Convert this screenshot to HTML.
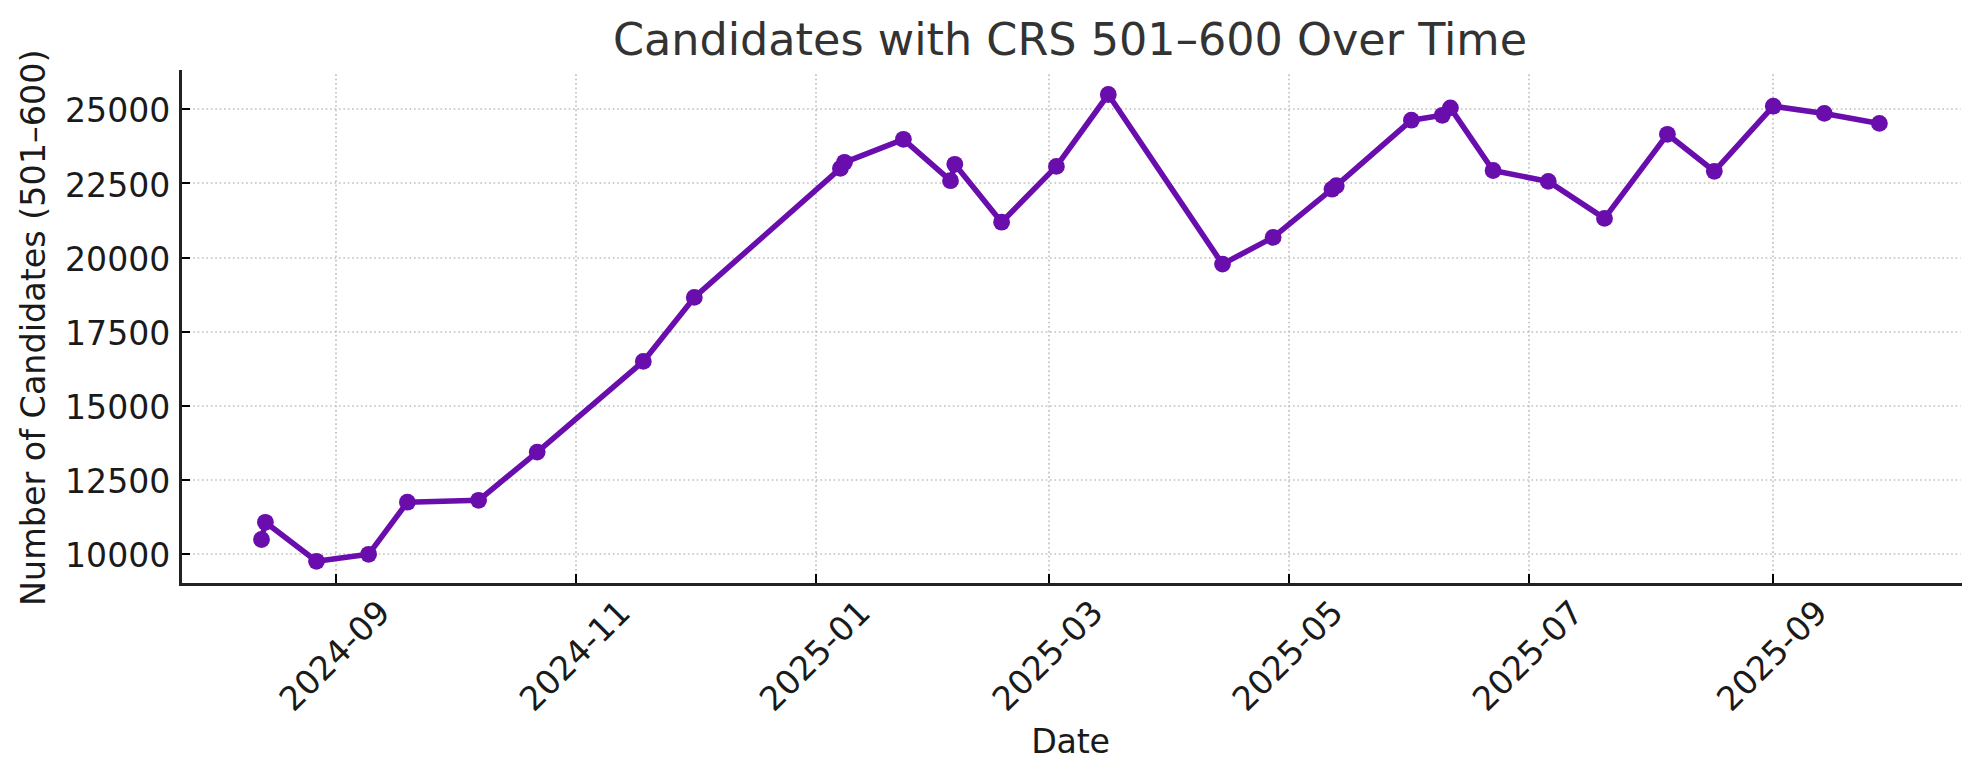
<!DOCTYPE html>
<html lang="en"><head><meta charset="utf-8"><title>Candidates with CRS 501–600 Over Time</title>
<style>html,body{margin:0;padding:0;background:#fff;}body{width:1979px;height:780px;overflow:hidden;}svg{display:block;}text{font-family:"DejaVu Sans","Liberation Sans",sans-serif;}</style></head><body>
<svg width="1979" height="780" viewBox="0 0 1979 780">
<rect width="1979" height="780" fill="#ffffff"/>
<g stroke="#c0c0c0" stroke-width="1.67" stroke-dasharray="1.667 2.75" fill="none">
<line x1="336" y1="584.5" x2="336" y2="71.4" stroke-dashoffset="3.817"/>
<line x1="576" y1="584.5" x2="576" y2="71.4" stroke-dashoffset="3.817"/>
<line x1="816" y1="584.5" x2="816" y2="71.4" stroke-dashoffset="3.817"/>
<line x1="1049" y1="584.5" x2="1049" y2="71.4" stroke-dashoffset="3.817"/>
<line x1="1289" y1="584.5" x2="1289" y2="71.4" stroke-dashoffset="3.817"/>
<line x1="1529" y1="584.5" x2="1529" y2="71.4" stroke-dashoffset="3.817"/>
<line x1="1773" y1="584.5" x2="1773" y2="71.4" stroke-dashoffset="3.817"/>
<line x1="180.5" y1="554" x2="1960.5" y2="554" stroke-dashoffset="0.6"/>
<line x1="180.5" y1="480" x2="1960.5" y2="480" stroke-dashoffset="0.6"/>
<line x1="180.5" y1="406" x2="1960.5" y2="406" stroke-dashoffset="0.6"/>
<line x1="180.5" y1="332" x2="1960.5" y2="332" stroke-dashoffset="0.6"/>
<line x1="180.5" y1="258" x2="1960.5" y2="258" stroke-dashoffset="0.6"/>
<line x1="180.5" y1="183" x2="1960.5" y2="183" stroke-dashoffset="0.6"/>
<line x1="180.5" y1="109" x2="1960.5" y2="109" stroke-dashoffset="0.6"/>
</g>
<polyline points="261.5,539.5 265.4,522.3 316.5,561.3 368.6,554.3 407.4,502.2 478.6,500.3 537.2,452.1 643.3,361.4 694.3,297.4 840.4,168.4 844.5,162.3 903.4,139.3 950.5,180.7 954.8,164.3 1001.6,222.2 1056.4,166.4 1108.3,94.5 1222.5,264.1 1273.1,237.4 1332.0,189.2 1336.3,185.7 1411.4,120.2 1442.3,115.3 1450.4,107.9 1493.1,170.5 1548.3,181.4 1604.5,218.4 1667.4,134.3 1714.3,171.3 1773.3,106.2 1824.3,113.4 1879.4,123.4" fill="none" stroke="#6a0dad" stroke-width="5.56" stroke-linejoin="round" stroke-linecap="butt"/>
<g fill="#6a0dad">
<circle cx="261.5" cy="539.5" r="8.4"/>
<circle cx="265.4" cy="522.3" r="8.4"/>
<circle cx="316.5" cy="561.3" r="8.4"/>
<circle cx="368.6" cy="554.3" r="8.4"/>
<circle cx="407.4" cy="502.2" r="8.4"/>
<circle cx="478.6" cy="500.3" r="8.4"/>
<circle cx="537.2" cy="452.1" r="8.4"/>
<circle cx="643.3" cy="361.4" r="8.4"/>
<circle cx="694.3" cy="297.4" r="8.4"/>
<circle cx="840.4" cy="168.4" r="8.4"/>
<circle cx="844.5" cy="162.3" r="8.4"/>
<circle cx="903.4" cy="139.3" r="8.4"/>
<circle cx="950.5" cy="180.7" r="8.4"/>
<circle cx="954.8" cy="164.3" r="8.4"/>
<circle cx="1001.6" cy="222.2" r="8.4"/>
<circle cx="1056.4" cy="166.4" r="8.4"/>
<circle cx="1108.3" cy="94.5" r="8.4"/>
<circle cx="1222.5" cy="264.1" r="8.4"/>
<circle cx="1273.1" cy="237.4" r="8.4"/>
<circle cx="1332.0" cy="189.2" r="8.4"/>
<circle cx="1336.3" cy="185.7" r="8.4"/>
<circle cx="1411.4" cy="120.2" r="8.4"/>
<circle cx="1442.3" cy="115.3" r="8.4"/>
<circle cx="1450.4" cy="107.9" r="8.4"/>
<circle cx="1493.1" cy="170.5" r="8.4"/>
<circle cx="1548.3" cy="181.4" r="8.4"/>
<circle cx="1604.5" cy="218.4" r="8.4"/>
<circle cx="1667.4" cy="134.3" r="8.4"/>
<circle cx="1714.3" cy="171.3" r="8.4"/>
<circle cx="1773.3" cy="106.2" r="8.4"/>
<circle cx="1824.3" cy="113.4" r="8.4"/>
<circle cx="1879.4" cy="123.4" r="8.4"/>
</g>
<g stroke="#000000" stroke-width="2" fill="none">
<line x1="336" y1="584.5" x2="336" y2="573.9"/>
<line x1="576" y1="584.5" x2="576" y2="573.9"/>
<line x1="816" y1="584.5" x2="816" y2="573.9"/>
<line x1="1049" y1="584.5" x2="1049" y2="573.9"/>
<line x1="1289" y1="584.5" x2="1289" y2="573.9"/>
<line x1="1529" y1="584.5" x2="1529" y2="573.9"/>
<line x1="1773" y1="584.5" x2="1773" y2="573.9"/>
<line x1="180.5" y1="554.00" x2="190.0" y2="554.00"/>
<line x1="180.5" y1="480.00" x2="190.0" y2="480.00"/>
<line x1="180.5" y1="406.00" x2="190.0" y2="406.00"/>
<line x1="180.5" y1="332.00" x2="190.0" y2="332.00"/>
<line x1="180.5" y1="258.00" x2="190.0" y2="258.00"/>
<line x1="180.5" y1="183.00" x2="190.0" y2="183.00"/>
<line x1="180.5" y1="109.00" x2="190.0" y2="109.00"/>
</g>
<path d="M180.5 71.4V584.5H1960.5" fill="none" stroke="#222222" stroke-width="3.0" stroke-linecap="square" stroke-linejoin="miter"/>
<g font-size="33.1" fill="#1a1a1a" text-anchor="end">
<text x="170.3" y="567.35">10000</text>
<text x="170.3" y="493.18">12500</text>
<text x="170.3" y="419.01">15000</text>
<text x="170.3" y="344.84">17500</text>
<text x="170.3" y="270.67">20000</text>
<text x="170.3" y="196.50">22500</text>
<text x="170.3" y="122.33">25000</text>
</g>
<g font-size="33.3" fill="#1a1a1a" text-anchor="middle">
<text transform="translate(342.8 663.7) rotate(-45)" x="0" y="0">2024-09</text>
<text transform="translate(583.0 663.7) rotate(-45)" x="0" y="0">2024-11</text>
<text transform="translate(823.0 663.7) rotate(-45)" x="0" y="0">2025-01</text>
<text transform="translate(1055.7 663.7) rotate(-45)" x="0" y="0">2025-03</text>
<text transform="translate(1295.8 663.7) rotate(-45)" x="0" y="0">2025-05</text>
<text transform="translate(1536.0 663.7) rotate(-45)" x="0" y="0">2025-07</text>
<text transform="translate(1780.1 663.7) rotate(-45)" x="0" y="0">2025-09</text>
</g>
<text x="1070.5" y="753" font-size="33.3" fill="#1a1a1a" text-anchor="middle" letter-spacing="-0.25">Date</text>
<text transform="translate(45 327.75) rotate(-90)" font-size="33.4" fill="#1a1a1a" text-anchor="middle">Number of Candidates (501–600)</text>
<text x="1070" y="55" font-size="44.5" fill="#333333" text-anchor="middle">Candidates with CRS 501–600 Over Time</text>
</svg></body></html>
